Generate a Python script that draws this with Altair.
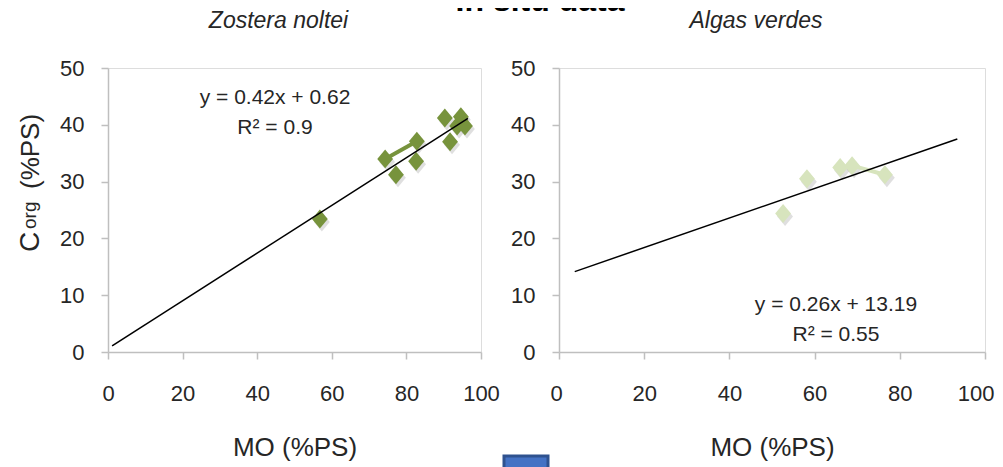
import altair as alt
import pandas as pd

# ---- data ----
zn_mo = [56.8, 74.3, 77.2, 82.6, 82.8, 90.3, 91.7, 93.6, 94.6, 95.7]
zn_corg = [23.4, 34.0, 31.2, 33.6, 37.1, 41.2, 37.0, 39.8, 41.4, 39.8]
zn_link = [1, 4]           # indices of points joined by a short green segment
zn_slope, zn_icpt = 0.42, 0.62
zn_trend_x = [1.1, 96.5]
zn_eq = ["y = 0.42x + 0.62", "R² = 0.9"]

ag_mo = [52.6, 58.2, 66.0, 68.8, 76.5]
ag_corg = [24.4, 30.5, 32.5, 32.8, 31.2]
ag_link = [3, 4]
ag_slope, ag_icpt = 0.26, 13.19
ag_trend_x = [3.7, 93.5]
ag_eq = ["y = 0.26x + 13.19", "R² = 0.55"]

x_ticks = [0, 20, 40, 60, 80, 100]
y_ticks = [0, 10, 20, 30, 40, 50]

FONT = "Liberation Sans, Arial, sans-serif"
AX = "#BFBFBF"
TXT = "#262626"

DIAMOND = "M0,-1.2L1,0L0,1.2L-1,0Z"


def panel(mo, corg, link, slope, icpt, trend_x, eq, color, w, h, title,
          title_dx, eq_pos, ylab=False, extra=None, flush=False):
    pts = pd.DataFrame({"mo": mo, "corg": corg})
    lnk = pts.iloc[link].reset_index(drop=True)
    tr = pd.DataFrame({"mo": trend_x, "corg": [slope * v + icpt for v in trend_x]})

    xs = alt.Scale(domain=[0, 100], nice=False)
    ys = alt.Scale(domain=[0, 50], nice=False)
    xkw = dict(values=x_ticks, grid=False, domainColor=AX, tickColor=AX,
               domainWidth=1.5, tickWidth=1.5, tickSize=7, labelFlush=flush,
               labelFont=FONT, labelFontSize=22, labelColor=TXT,
               labelPadding=24, title="MO (%PS)", titleFont=FONT,
               titleFontSize=26, titleFontWeight="normal", titleColor=TXT,
               titlePadding=30)
    if flush:
        xkw["labelFlushOffset"] = 9
    xax = alt.Axis(**xkw)
    yax = alt.Axis(values=y_ticks, grid=False, domainColor=AX, tickColor=AX,
                   domainWidth=1.5, tickWidth=1.5, tickSize=7, labelFlush=False,
                   labelFont=FONT, labelFontSize=22, labelColor=TXT,
                   labelPadding=17, title=None)

    base = alt.Chart(pts)
    shadow = base.mark_point(shape=DIAMOND, size=250, filled=True, color="#7F7F7F",
                             opacity=0.25, xOffset=2, yOffset=3).encode(
        x=alt.X("mo:Q", scale=xs, axis=xax), y=alt.Y("corg:Q", scale=ys, axis=yax))
    seg = alt.Chart(lnk).mark_line(color=color, strokeWidth=4).encode(
        x=alt.X("mo:Q", scale=xs), y=alt.Y("corg:Q", scale=ys))
    dots = base.mark_point(shape=DIAMOND, size=250, filled=True, color=color,
                           opacity=1).encode(
        x=alt.X("mo:Q", scale=xs), y=alt.Y("corg:Q", scale=ys))
    trend = alt.Chart(tr).mark_line(color="#000000", strokeWidth=1.5).encode(
        x=alt.X("mo:Q", scale=xs), y=alt.Y("corg:Q", scale=ys))

    one = pd.DataFrame({"a": [0]})
    ttl = alt.Chart(one).mark_text(font=FONT, fontSize=23, fontStyle="italic",
                                   color=TXT, baseline="alphabetic", align="center").encode(
        x=alt.value(w / 2 + title_dx), y=alt.value(-40), text=alt.value(title))
    eq1 = alt.Chart(one).mark_text(font=FONT, fontSize=21, color=TXT,
                                   baseline="middle", align="center").encode(
        x=alt.value(eq_pos[0]), y=alt.value(eq_pos[1]), text=alt.value(eq[0]))
    eq2 = alt.Chart(one).mark_text(font=FONT, fontSize=21, color=TXT,
                                   baseline="middle", align="center").encode(
        x=alt.value(eq_pos[0]), y=alt.value(eq_pos[1] + 30), text=alt.value(eq[1]))

    layers = [shadow, seg, dots, trend, ttl, eq1, eq2]
    if ylab:
        c = alt.Chart(one).mark_text(font=FONT, fontSize=28, color=TXT, angle=270,
                                     align="left", baseline="alphabetic").encode(
            x=alt.value(-69), y=alt.value(184), text=alt.value("C"))
        org = alt.Chart(one).mark_text(font=FONT, fontSize=19, color=TXT, angle=270,
                                       align="left", baseline="alphabetic").encode(
            x=alt.value(-72), y=alt.value(161), text=alt.value("org"))
        ps = alt.Chart(one).mark_text(font=FONT, fontSize=26, color=TXT, angle=270,
                                      align="left", baseline="alphabetic").encode(
            x=alt.value(-69), y=alt.value(121), text=alt.value("(%PS)"))
        layers += [c, org, ps]
    if extra is not None:
        layers += extra
    return alt.layer(*layers).properties(width=w, height=h)


one = pd.DataFrame({"a": [0]})
blue = alt.Chart(one).mark_rect(fill="#4472C4", stroke="#2F528F", strokeWidth=3).encode(
    x=alt.value(396), x2=alt.value(440), y=alt.value(388), y2=alt.value(410))

left = panel(zn_mo, zn_corg, zn_link, zn_slope, zn_icpt, zn_trend_x, zn_eq,
             "#77933C", 373, 284, "Zostera noltei", -16, (167, 30), ylab=True,
             extra=[blue])
right = panel(ag_mo, ag_corg, ag_link, ag_slope, ag_icpt, ag_trend_x, ag_eq,
              "#D7E4BD", 426, 284, "Algas verdes", -16, (277, 237), flush=True)

# main title: only its lower edge shows at the very top, as in the reference
top = alt.Chart(one).mark_text(font=FONT, fontSize=32, fontWeight="bold",
                               color="#000000", align="center", baseline="alphabetic",
                               clip=True).encode(
    x=alt.value(432), y=alt.value(3), text=alt.value("In situ data")
).properties(width=800, height=4,
             view=alt.ViewBackground(stroke="transparent", strokeWidth=0))

chart = alt.vconcat(
    top,
    alt.hconcat(left, right, spacing=78, bounds="flush"),
    spacing=56, bounds="flush",
).properties(
    padding={"left": 8, "top": 0, "right": 0, "bottom": 0},
).configure_view(stroke=None, strokeWidth=0).configure(background="white")

chart.save("out.html", embed_options={"renderer": "svg", "actions": False})
